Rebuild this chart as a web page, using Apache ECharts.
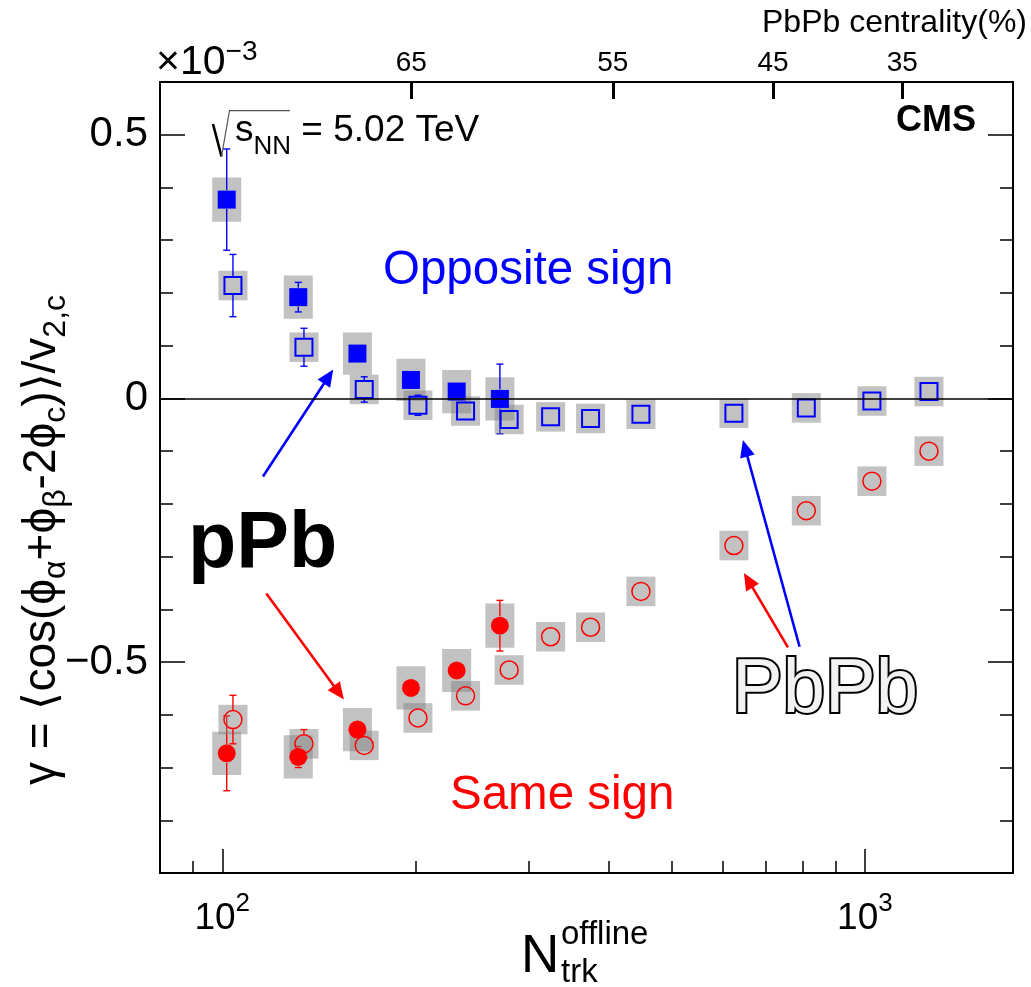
<!DOCTYPE html>
<html><head><meta charset="utf-8">
<script src="https://cdn.jsdelivr.net/npm/echarts@6/dist/echarts.min.js"></script>
<style>html,body{margin:0;padding:0;background:#fff}#c{width:1031px;height:987px}</style>
</head><body><div id="c"></div>
<script>
// ---------------- data (gamma in units of 1e-3) ----------------
const ppbN       = [101.6, 131.3, 162.3, 196.6, 231.6, 270.4];
const ppbOS      = [0.377, 0.192, 0.085, 0.035, 0.013, -0.001];
const ppbOSstat  = [0.096, 0.028, 0.018, 0.012, 0.018, 0.066];
const ppbOSsys   = [0.042, 0.041, 0.040, 0.040, 0.041, 0.041];
const ppbSS      = [-0.673, -0.680, -0.628, -0.549, -0.516, -0.431];
const ppbSSstat  = [0.071, 0.020, 0.012, 0.012, 0.012, 0.048];
const ppbSSsys   = [0.041, 0.041, 0.041, 0.041, 0.041, 0.042];

const pbpbN      = [103.9, 134.0, 166.3, 201.6, 239.1, 279.5, 324.3, 374.2, 448.2, 625.4, 810.6, 1025.4, 1258];
const pbpbOS     = [0.214, 0.097, 0.017, -0.013, -0.024, -0.040, -0.035, -0.038, -0.030, -0.028, -0.018, -0.005, 0.013];
const pbpbOSstat = [0.059, 0.036, 0.024, 0.019, 0.010, 0.008, 0.006, 0.006, 0.005, 0.005, 0.005, 0.005, 0.005];
const pbpbOSsys  = [0.028, 0.028, 0.028, 0.028, 0.028, 0.028, 0.028, 0.028, 0.028, 0.028, 0.028, 0.028, 0.028];
const pbpbSS     = [-0.609, -0.655, -0.658, -0.606, -0.564, -0.515, -0.452, -0.434, -0.366, -0.279, -0.213, -0.157, -0.100];
const pbpbSSstat = [0.046, 0.027, 0.012, 0.010, 0.008, 0.007, 0.006, 0.006, 0.005, 0.005, 0.005, 0.005, 0.005];
const pbpbSSsys  = [0.028, 0.028, 0.028, 0.028, 0.028, 0.028, 0.028, 0.028, 0.028, 0.028, 0.028, 0.028, 0.028];

// axis ticks / labels
const X_MIN = 80, X_MAX = 1700;
const Y_MIN = -0.9, Y_MAX = 0.6;
const X_MAJOR = [100, 1000];
const X_MAJOR_EXP = ['2', '3'];
const X_MINOR = [90, 200, 300, 400, 500, 600, 700, 800, 900];
const CENT_N = [196.9, 405.3, 719.4, 1143];
const CENT_LABELS = ['65', '55', '45', '35'];
const Y_MAJOR = [-0.5, 0, 0.5];
const Y_MAJOR_LABELS = ['\u22120.5', '0', '0.5'];
const Y_MINOR = [-0.8, -0.7, -0.6, -0.4, -0.3, -0.2, -0.1, 0.1, 0.2, 0.3, 0.4];

// annotation arrows in data coordinates (start -> head)
const arrowStart = [[115.7, -0.148], [117.1, -0.370], [791.3, -0.471], [759.0, -0.472]];
const arrowEnd   = [[148.8, 0.055], [154.6, -0.571], [645.9, -0.079], [648.2, -0.331]];
const arrowColor = ['#0000ff', '#ff0000', '#0000ff', '#ff0000'];

// ---------------- styling ----------------
const FONT = 'Liberation Sans, Arial, Helvetica, sans-serif';
const BLUE = '#0000ff', RED = '#ff0000';
const BOX_FILL = 'rgba(128,128,128,0.48)';
const BOX_W = 29;
const MARK_HALF = 9.5;

function nearestIdx(arr, v) {
  let b = 0, d = Infinity;
  arr.forEach((a, i) => { const dd = Math.abs(Math.log(a) - Math.log(v)); if (dd < d) { d = dd; b = i; } });
  return b;
}
function nearestLin(arr, v) {
  let b = 0, d = Infinity;
  arr.forEach((a, i) => { const dd = Math.abs(a - v); if (dd < d) { d = dd; b = i; } });
  return b;
}
function triples(xs, ys, es) { return xs.map((x, i) => [x, ys[i], es[i]]); }
function pairs(xs, ys) { return xs.map((x, i) => [x, ys[i]]); }

function boxRender(params, api) {
  const x = api.value(0), y = api.value(1), s = api.value(2);
  const t = api.coord([x, y + s]), b = api.coord([x, y - s]);
  return { type: 'rect', shape: { x: t[0] - BOX_W / 2, y: t[1], width: BOX_W, height: b[1] - t[1] },
           style: { fill: BOX_FILL } };
}
function errRender(color) {
  return function (params, api) {
    const x = api.value(0), y = api.value(1), e = api.value(2);
    const c = api.coord([x, y]), p1 = api.coord([x, y + e]), p2 = api.coord([x, y - e]);
    const cw = 3.5, st = { stroke: color, lineWidth: 1.4 };
    const kids = [];
    if (c[1] - p1[1] > MARK_HALF) {
      kids.push({ type: 'line', shape: { x1: c[0], y1: c[1] - MARK_HALF, x2: p1[0], y2: p1[1] }, style: st });
      kids.push({ type: 'line', shape: { x1: p1[0] - cw, y1: p1[1], x2: p1[0] + cw, y2: p1[1] }, style: st });
    }
    if (p2[1] - c[1] > MARK_HALF) {
      kids.push({ type: 'line', shape: { x1: c[0], y1: c[1] + MARK_HALF, x2: p2[0], y2: p2[1] }, style: st });
      kids.push({ type: 'line', shape: { x1: p2[0] - cw, y1: p2[1], x2: p2[0] + cw, y2: p2[1] }, style: st });
    }
    return { type: 'group', children: kids };
  };
}
function arrowRender(params, api) {
  const a = api.coord([api.value(0), api.value(1)]), b = api.coord([api.value(2), api.value(3)]);
  const color = arrowColor[params.dataIndex];
  const dx = b[0] - a[0], dy = b[1] - a[1], L = Math.hypot(dx, dy), ux = dx / L, uy = dy / L;
  const hl = 17, hw = 7.5;
  const bx = b[0] - ux * hl, by = b[1] - uy * hl;
  return { type: 'group', children: [
    { type: 'line', shape: { x1: a[0], y1: a[1], x2: bx + ux * 2, y2: by + uy * 2 }, style: { stroke: color, lineWidth: 2.6 } },
    { type: 'polygon', shape: { points: [[b[0], b[1]], [bx - uy * hw, by + ux * hw], [bx + uy * hw, by - ux * hw]] },
      style: { fill: color } }
  ] };
}

const tickStyle = { color: '#000', width: 1.5 };
function xAx(extra) {
  return Object.assign({ type: 'log', logBase: 10, min: X_MIN, max: X_MAX, gridIndex: 0,
    axisLine: { show: false, onZero: false }, splitLine: { show: false }, minorTick: { show: false } }, extra);
}
function yAx(extra) {
  return Object.assign({ type: 'value', min: Y_MIN, max: Y_MAX, gridIndex: 0,
    axisLine: { show: false, onZero: false }, splitLine: { show: false } }, extra);
}

const chart = echarts.init(document.getElementById('c'), null, { renderer: 'canvas' });

const option = {
  animation: false,
  backgroundColor: '#fff',
  grid: { left: 160, top: 82, right: 18, bottom: 114, show: true, borderColor: '#000', borderWidth: 2,
          backgroundColor: 'transparent' },
  xAxis: [
    xAx({ position: 'bottom',
      axisTick: { inside: true, length: 24, lineStyle: tickStyle, customValues: X_MAJOR },
      axisLabel: { customValues: X_MAJOR, margin: 18, color: '#000',
        formatter: v => '{b|10}{s|' + X_MAJOR_EXP[nearestIdx(X_MAJOR, v)] + '}',
        rich: { b: { fontSize: 37, fontFamily: FONT, color: '#000', lineHeight: 55 },
                s: { fontSize: 26, fontFamily: FONT, color: '#000', lineHeight: 26, verticalAlign: 'top' } } } }),
    xAx({ position: 'bottom',
      axisTick: { inside: true, length: 12, lineStyle: tickStyle, customValues: X_MINOR },
      axisLabel: { show: false } }),
    xAx({ position: 'top',
      axisTick: { inside: true, length: 17, lineStyle: { color: '#000', width: 3 }, customValues: CENT_N },
      axisLabel: { customValues: CENT_N, margin: 5, color: '#000', fontSize: 28, fontFamily: FONT, lineHeight: 28,
        formatter: v => CENT_LABELS[nearestIdx(CENT_N, v)] } })
  ],
  yAxis: [
    yAx({ position: 'left',
      axisTick: { inside: true, length: 25, lineStyle: tickStyle, customValues: Y_MAJOR },
      axisLabel: { customValues: Y_MAJOR, margin: 12, color: '#000', fontSize: 42, fontFamily: FONT,
        formatter: v => Y_MAJOR_LABELS[nearestLin(Y_MAJOR, v)] } }),
    yAx({ position: 'left',
      axisTick: { inside: true, length: 13, lineStyle: tickStyle, customValues: Y_MINOR }, axisLabel: { show: false } }),
    yAx({ position: 'right',
      axisTick: { inside: true, length: 25, lineStyle: tickStyle, customValues: Y_MAJOR }, axisLabel: { show: false } }),
    yAx({ position: 'right',
      axisTick: { inside: true, length: 13, lineStyle: tickStyle, customValues: Y_MINOR }, axisLabel: { show: false } })
  ],
  series: [
    { type: 'custom', name: 'pPb OS sys', renderItem: boxRender, data: triples(ppbN, ppbOS, ppbOSsys),
      encode: { x: 0, y: 1 }, clip: true,
      markLine: { silent: true, symbol: 'none', label: { show: false },
        lineStyle: { color: '#000', width: 1.5, type: 'solid' }, data: [{ yAxis: 0 }] } },
    { type: 'custom', name: 'pPb SS sys', renderItem: boxRender, data: triples(ppbN, ppbSS, ppbSSsys), encode: { x: 0, y: 1 }, clip: true },
    { type: 'custom', name: 'pPb OS stat', renderItem: errRender(BLUE), data: triples(ppbN, ppbOS, ppbOSstat), encode: { x: 0, y: 1 }, clip: true },
    { type: 'custom', name: 'pPb SS stat', renderItem: errRender(RED), data: triples(ppbN, ppbSS, ppbSSstat), encode: { x: 0, y: 1 }, clip: true },
    { type: 'scatter', name: 'pPb OS', data: pairs(ppbN, ppbOS), symbol: 'rect', symbolSize: 18,
      itemStyle: { color: BLUE, opacity: 1 } },
    { type: 'scatter', name: 'pPb SS', data: pairs(ppbN, ppbSS), symbol: 'circle', symbolSize: 18,
      itemStyle: { color: RED, opacity: 1 } },
    { type: 'custom', name: 'PbPb OS sys', renderItem: boxRender, data: triples(pbpbN, pbpbOS, pbpbOSsys), encode: { x: 0, y: 1 }, clip: true },
    { type: 'custom', name: 'PbPb SS sys', renderItem: boxRender, data: triples(pbpbN, pbpbSS, pbpbSSsys), encode: { x: 0, y: 1 }, clip: true },
    { type: 'custom', name: 'PbPb OS stat', renderItem: errRender(BLUE), data: triples(pbpbN, pbpbOS, pbpbOSstat), encode: { x: 0, y: 1 }, clip: true },
    { type: 'custom', name: 'PbPb SS stat', renderItem: errRender(RED), data: triples(pbpbN, pbpbSS, pbpbSSstat), encode: { x: 0, y: 1 }, clip: true },
    { type: 'scatter', name: 'PbPb OS', data: pairs(pbpbN, pbpbOS), symbol: 'rect', symbolSize: 17,
      itemStyle: { color: 'rgba(0,0,0,0)', borderColor: BLUE, borderWidth: 2, opacity: 1 } },
    { type: 'scatter', name: 'PbPb SS', data: pairs(pbpbN, pbpbSS), symbol: 'circle', symbolSize: 18,
      itemStyle: { color: 'rgba(0,0,0,0)', borderColor: RED, borderWidth: 1.5, opacity: 1 } },
    { type: 'custom', name: 'arrows', renderItem: arrowRender,
      data: arrowStart.map((s, i) => [s[0], s[1], arrowEnd[i][0], arrowEnd[i][1]]),
      encode: { x: [0, 2], y: [1, 3] }, clip: false, z: 3 }
  ],
  graphic: [
    { type: 'text', x: 156, y: 38, style: { text: '{b|\u00d710}{s|\u22123}', verticalAlign: 'top', align: 'left',
      rich: { b: { fontSize: 41, fontFamily: FONT, fill: '#000', lineHeight: 50 },
              s: { fontSize: 28, fontFamily: FONT, fill: '#000', lineHeight: 28, verticalAlign: 'top' } } } },
    { type: 'text', x: 1027, y: 23, style: { text: 'PbPb centrality(%)', align: 'right', verticalAlign: 'middle',
      fontSize: 32, fontFamily: FONT, fill: '#000' } },
    { type: 'text', x: 896, y: 121, style: { text: 'CMS', align: 'left', verticalAlign: 'middle',
      fontSize: 36, fontWeight: 'bold', fontFamily: FONT, fill: '#000' } },
    { type: 'polyline', shape: { points: [[213, 124], [221.5, 156.5]] }, style: { stroke: '#000', lineWidth: 2.6, fill: null } },
    { type: 'polyline', shape: { points: [[221.5, 156.5], [229.5, 110.7], [290, 110.7]] }, style: { stroke: '#555', lineWidth: 1.2, fill: null } },
    { type: 'text', x: 235, y: 101.6, style: { text: '{b|s}{s|NN}{b| = 5.02 TeV}', align: 'left', verticalAlign: 'top',
      rich: { b: { fontSize: 37, fontFamily: FONT, fill: '#000', lineHeight: 58 },
              s: { fontSize: 26, fontFamily: FONT, fill: '#000', lineHeight: 26, verticalAlign: 'bottom' } } } },
    { type: 'text', x: 383, y: 271, style: { text: 'Opposite sign', align: 'left', verticalAlign: 'middle',
      fontSize: 47.5, fontFamily: FONT, fill: BLUE } },
    { type: 'text', x: 450, y: 796, style: { text: 'Same sign', align: 'left', verticalAlign: 'middle',
      fontSize: 47.5, fontFamily: FONT, fill: RED } },
    { type: 'text', x: 188, y: 545, style: { text: 'pPb', align: 'left', verticalAlign: 'middle',
      fontSize: 79, fontWeight: 'bold', fontFamily: FONT, fill: '#000' } },
    { type: 'text', x: 732, y: 691, style: { text: 'PbPb', align: 'left', verticalAlign: 'middle',
      fontSize: 76, fontFamily: FONT, fill: '#f2f2f2', stroke: '#000', lineWidth: 4 } },
    { type: 'text', x: 521, y: 957, style: { text: 'N', align: 'left', verticalAlign: 'middle',
      fontSize: 53, fontFamily: FONT, fill: '#000' } },
    { type: 'text', x: 561, y: 935, style: { text: 'offline', align: 'left', verticalAlign: 'middle',
      fontSize: 33, fontFamily: FONT, fill: '#000' } },
    { type: 'text', x: 561, y: 973, style: { text: 'trk', align: 'left', verticalAlign: 'middle',
      fontSize: 33, fontFamily: FONT, fill: '#000' } },
    { type: 'text', x: 42, y: 540, rotation: Math.PI / 2,
      style: { text: '{b|\u03b3 = \u27e8cos(\u03d5}{s|\u03b1}{b|+\u03d5}{s|\u03b2}{b|-2\u03d5}{s|c}{b|)\u27e9/v}{s|2,c}',
        align: 'center', verticalAlign: 'middle',
        rich: { b: { fontSize: 46, fontFamily: FONT, fill: '#000', lineHeight: 60 },
                s: { fontSize: 32, fontFamily: FONT, fill: '#000', lineHeight: 32, verticalAlign: 'bottom' } } } }
  ]
};
chart.setOption(option);
</script>
</body></html>
